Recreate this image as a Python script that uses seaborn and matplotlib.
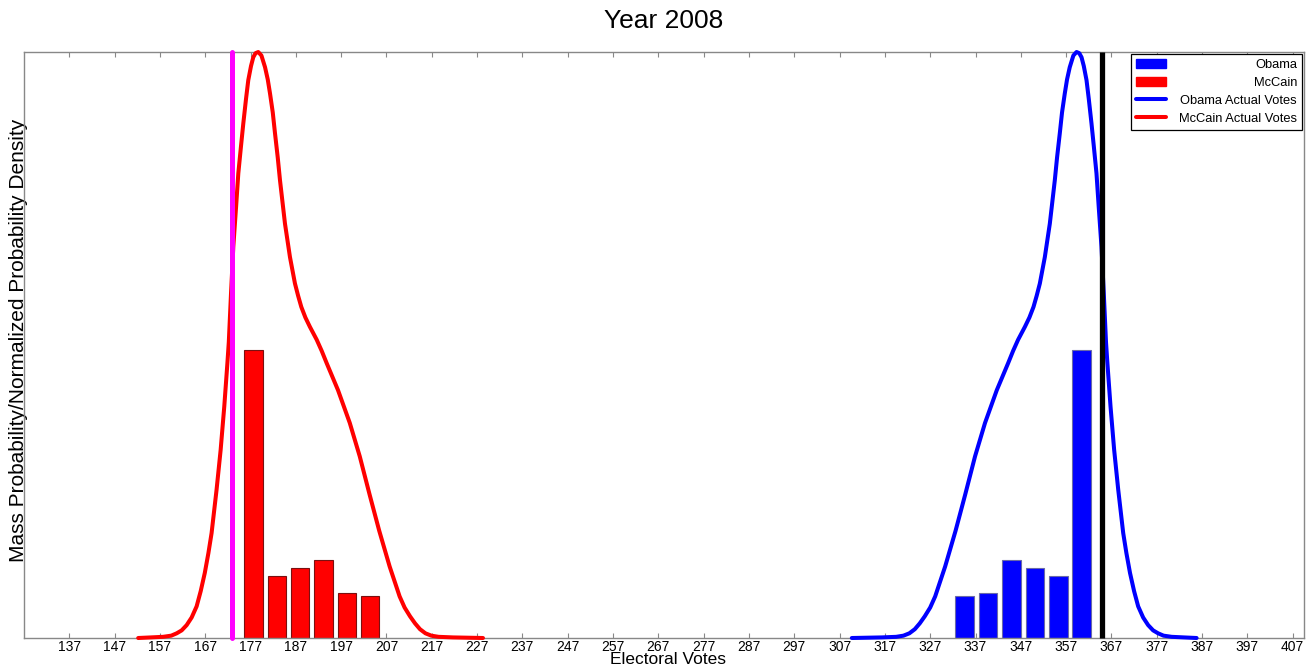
import matplotlib
matplotlib.use("Agg")
import matplotlib.pyplot as plt
import seaborn as sns
from matplotlib.patches import Patch
from matplotlib.lines import Line2D

# ---- data ----
mccain_bins = [177.6, 182.8, 187.9, 193.1, 198.3, 203.4]
mccain_mass = [0.491, 0.105, 0.119, 0.133, 0.076, 0.072]
obama_bins = [334.6, 339.8, 344.9, 350.1, 355.3, 360.4]
obama_mass = [0.072, 0.076, 0.133, 0.119, 0.105, 0.491]

mccain_curve_x = [152.2, 155.0, 157.7, 159.5, 160.7, 161.8, 162.9, 164.0, 165.1, 166.0,
                  166.9, 167.7, 168.4, 169.5, 170.4, 171.2, 171.9, 172.2, 172.7, 173.2,
                  173.8, 174.3, 174.9, 175.4, 176.0, 176.5, 177.1, 177.6, 178.1, 178.7,
                  179.4, 180.2, 180.8, 181.3, 181.9, 182.4, 183.0, 183.5, 184.6, 185.7,
                  186.8, 187.5, 188.2, 189.1, 190.1, 191.6, 192.7, 193.8, 196.3, 198.9,
                  201.1, 203.3, 205.4, 207.7, 209.9, 211.0, 212.2, 213.3, 214.4, 215.6,
                  216.9, 218.5, 221.7, 228.3]
mccain_curve_y = [0.000, 0.001, 0.002, 0.004, 0.008, 0.013, 0.022, 0.035, 0.054, 0.080,
                  0.111, 0.145, 0.179, 0.253, 0.321, 0.395, 0.470, 0.505, 0.590, 0.668,
                  0.735, 0.793, 0.840, 0.878, 0.920, 0.952, 0.976, 0.991, 0.998, 1.000,
                  0.994, 0.974, 0.953, 0.929, 0.897, 0.861, 0.820, 0.781, 0.707, 0.650,
                  0.605, 0.584, 0.565, 0.547, 0.531, 0.509, 0.490, 0.469, 0.423, 0.367,
                  0.310, 0.244, 0.183, 0.122, 0.071, 0.052, 0.037, 0.025, 0.015, 0.008,
                  0.004, 0.002, 0.001, 0.000]
obama_curve_x = [309.7, 316.3, 319.5, 321.1, 322.4, 323.6, 324.7, 325.8, 327.0, 328.1,
                 330.3, 332.6, 334.7, 336.9, 339.1, 341.7, 344.2, 345.3, 346.4, 347.9,
                 348.9, 349.8, 350.5, 351.2, 352.3, 353.4, 354.5, 355.0, 355.6, 356.1,
                 356.7, 357.2, 357.8, 358.6, 359.3, 359.9, 360.4, 360.9, 361.5, 362.0,
                 362.6, 363.1, 363.7, 364.2, 364.8, 365.3, 365.8, 366.1, 366.8, 367.6,
                 368.5, 369.6, 370.3, 371.1, 372.0, 372.9, 374.0, 375.1, 376.2, 377.3,
                 378.5, 380.3, 383.0, 385.8]
obama_curve_y = [0.000, 0.001, 0.002, 0.004, 0.008, 0.015, 0.025, 0.037, 0.052, 0.071,
                 0.122, 0.183, 0.244, 0.310, 0.367, 0.423, 0.469, 0.490, 0.509, 0.531,
                 0.547, 0.565, 0.584, 0.605, 0.650, 0.707, 0.781, 0.820, 0.861, 0.897,
                 0.929, 0.953, 0.974, 0.994, 1.000, 0.998, 0.991, 0.976, 0.952, 0.920,
                 0.878, 0.840, 0.793, 0.735, 0.668, 0.590, 0.505, 0.470, 0.395, 0.321,
                 0.253, 0.179, 0.145, 0.111, 0.080, 0.054, 0.035, 0.022, 0.013, 0.008,
                 0.004, 0.002, 0.001, 0.000]

mccain_actual = 173
obama_actual = 365

xticks = list(range(137, 408, 10))
title = "Year 2008"
xlabel = "Electoral Votes"
ylabel = "Mass Probability/Normalized Probability Density"
legend_labels = ["Obama", "McCain", "Obama Actual Votes", "McCain Actual Votes"]

# ---- styling ----
sns.set_style("white")
plt.rcParams["font.family"] = ["Liberation Sans", "DejaVu Sans"]
plt.rcParams["text.color"] = "black"
plt.rcParams["axes.labelcolor"] = "black"

fig = plt.figure(figsize=(13.14, 6.66), dpi=100)
ax = fig.add_axes([24 / 1314, 1 - 638 / 666, 1280 / 1314, 586 / 666])

sns.barplot(x=mccain_bins, y=mccain_mass, native_scale=True, orient="x",
            color="#ff0000", saturation=1, edgecolor="#7a1010", linewidth=0.8,
            errorbar=None, width=0.8, ax=ax, zorder=2)
sns.barplot(x=obama_bins, y=obama_mass, native_scale=True, orient="x",
            color="#0000ff", saturation=1, edgecolor="#6a6aa8", linewidth=0.8,
            errorbar=None, width=0.8, ax=ax, zorder=2)

sns.lineplot(x=mccain_curve_x, y=mccain_curve_y, color="#ff0000", lw=2.9,
             ax=ax, clip_on=False, zorder=3, solid_joinstyle="round",
             solid_capstyle="round")
sns.lineplot(x=obama_curve_x, y=obama_curve_y, color="#0000ff", lw=2.9,
             ax=ax, clip_on=False, zorder=3, solid_joinstyle="round",
             solid_capstyle="round")

ax.axvline(mccain_actual, color="#ff00ff", lw=3.6, solid_capstyle="round",
           clip_on=False, zorder=4)
ax.axvline(obama_actual, color="#000000", lw=3.8, solid_capstyle="butt",
           clip_on=False, zorder=4)

ax.set_xlim(127, 409.5)
ax.set_ylim(0, 1.0)
ax.set_xticks(xticks)
ax.set_xticklabels([str(t) for t in xticks], fontsize=10)
ax.set_yticks([])
ax.tick_params(axis="x", direction="in", length=3.5, width=0.8, color="#888888",
               labelcolor="black", top=True, bottom=True, pad=1.2)
for s in ax.spines.values():
    s.set_color("#888888")
    s.set_linewidth(1.0)
    s.set_visible(True)

ax.set_title(title, fontsize=19, pad=17, color="black")
ax.set_xlabel(xlabel, fontsize=12.5, labelpad=0)
ax.xaxis.set_label_coords(0.503, -0.0445)
ax.xaxis.label.set_va("baseline")
ax.set_ylabel(ylabel, fontsize=15)
ax.yaxis.set_label_coords(0.003, 0.508)

handles = [Patch(facecolor="#0000ff", edgecolor="#0000ff"),
           Patch(facecolor="#ff0000", edgecolor="#ff0000"),
           Line2D([], [], color="#0000ff", lw=2.9),
           Line2D([], [], color="#ff0000", lw=2.9)]
leg = ax.legend(handles, legend_labels, loc="upper right", fontsize=9.3,
                fancybox=False, framealpha=1, edgecolor="black",
                borderaxespad=0.15, handlelength=2.3, labelspacing=0.45,
                borderpad=0.4, handletextpad=1.0)
leg.get_frame().set_linewidth(0.9)
leg.set_zorder(10)

# right-align the legend labels, as in the reference
fig.canvas.draw()
r = fig.canvas.get_renderer()
texts = leg.get_texts()
widths = [t.get_window_extent(r).width for t in texts]
wmax = max(widths)
for t, wi in zip(texts, widths):
    t.set_position((wmax - wi, 0))

fig.savefig("out.png", dpi=100)
